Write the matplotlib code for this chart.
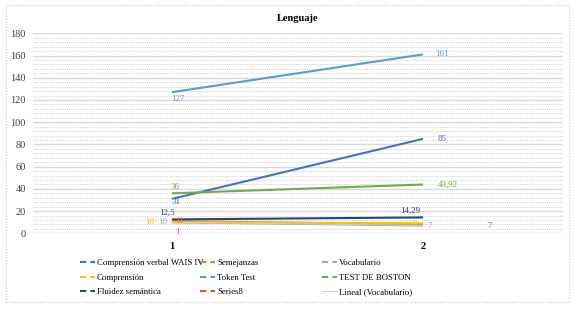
import numpy as np
import matplotlib
matplotlib.use("Agg")
import matplotlib.pyplot as plt
from matplotlib.lines import Line2D
from matplotlib.patches import Rectangle

plt.rcParams['font.family'] = ['Liberation Serif', 'DejaVu Serif']

# data
categorias = [1, 2]
comp_verbal = [31, 85]
semejanzas = [11, 8]
vocabulario = [10, 7]
comprension = [10, 9]
token_test = [127, 161]
boston = [36, 43.92]
fluidez = [12.5, 14.29]
series8 = [1, 7]

nombres = ['Comprensión verbal WAIS IV', 'Semejanzas', 'Vocabulario',
           'Comprensión', 'Token Test', 'TEST DE BOSTON',
           'Fluidez semántica', 'Series8']
colores = ['#4472C4', '#ED7D31', '#A5A5A5', '#FFC000', '#5B9BD5',
           '#70AD47', '#264478', '#E0502A']

fig = plt.figure(figsize=(5.75, 3.10), dpi=100)
ax = fig.add_axes([0.057, 0.2474, 0.922, 0.6452])

series = [comp_verbal, semejanzas, vocabulario, comprension, token_test,
          boston, fluidez]
for vals, col in zip(series, colores):
    ax.plot(categorias, vals, color=col, lw=1.5, solid_capstyle='butt')
# Series8 has no visible line, only its labels
ax.plot(categorias, series8, color=colores[7], lw=0)

# linear trendline of Vocabulario
coef = np.polyfit(categorias, vocabulario, 1)
ax.plot(categorias, np.polyval(coef, categorias), color='#D0D0D0', lw=0.6)

def etiqueta(x, y, txt, col, dx, dy):
    ax.annotate(txt, (x, y), xytext=(dx, dy), textcoords='offset pixels',
                ha='center', va='center', color=col, fontsize=6.5)

# labels at category 1
etiqueta(1, 127, '127', colores[4], 6, -7)
etiqueta(1, 36, '36', colores[5], 3, 6)
etiqueta(1, 31, '31', colores[0], 4, -3)
etiqueta(1, 12.5, '12,5', colores[6], -5, 7)
etiqueta(1, 10, '10', colores[3], -22, 0)
etiqueta(1, 10, '10', colores[2], -9, 0)
etiqueta(1, 11, '11', colores[1], 8, 0)
etiqueta(1, 1, '1', colores[7], 6, 0)
# labels at category 2
etiqueta(2, 161, '161', colores[4], 19, 0)
etiqueta(2, 85, '85', colores[0], 19, 0)
etiqueta(2, 43.92, '43,92', colores[5], 25, 0)
etiqueta(2, 14.29, '14,29', colores[6], -13, 7)
etiqueta(2, 9, '9', colores[3], -8, -1)
etiqueta(2, 7, '7', colores[2], 7, 0)
etiqueta(2, 7, '7', colores[7], 67, 0)

ax.set_xlim(0.446, 2.557)
ax.set_ylim(0, 180)
ax.set_xticks(categorias)
ax.set_xticklabels([str(c) for c in categorias], fontweight='bold',
                   fontsize=7.5)
ax.set_yticks(np.arange(0, 181, 20))
ax.set_yticks(np.arange(0, 181, 4), minor=True)
ax.tick_params(axis='y', which='both', length=0, labelsize=7.5,
               labelcolor='#404040', pad=5)
ax.tick_params(axis='x', length=0, pad=6)
ax.grid(axis='y', which='major', color='#D9D9D9', lw=1.0)
ax.grid(axis='y', which='minor', color='#D4D4D4', lw=0.8, ls=(0, (1, 1)))
ax.set_axisbelow(True)
for s in ax.spines.values():
    s.set_visible(False)

fig.text(0.518, 0.94, 'Lenguaje', ha='center', va='center',
         fontweight='bold', fontsize=7.5)

# legend: three fixed-width columns like Excel
handles = [Line2D([], [], color=c, lw=1.5, ls=(0, (3, 2))) for c in colores]
handles.append(Line2D([], [], color='#D0D0D0', lw=0.8))
labels = nombres + ['Lineal (Vocabulario)']
col_x = [80 / 575, 200 / 575, 322 / 575]
for j in range(3):
    idx = [j, j + 3, j + 6]
    fig.legend([handles[i] for i in idx], [labels[i] for i in idx],
               loc='upper left', bbox_to_anchor=(col_x[j], 0.165),
               frameon=False, fontsize=6.3, handlelength=1.7,
               handletextpad=0.25, labelspacing=0.75,
               borderpad=0, borderaxespad=0)

fig.patches.append(Rectangle((0.01, 0.025), 0.98, 0.96,
                             transform=fig.transFigure, fill=False,
                             ec='#C8C8C8', lw=0.8, ls=(0, (1, 1.5))))

fig.savefig('out.png', dpi=100)
